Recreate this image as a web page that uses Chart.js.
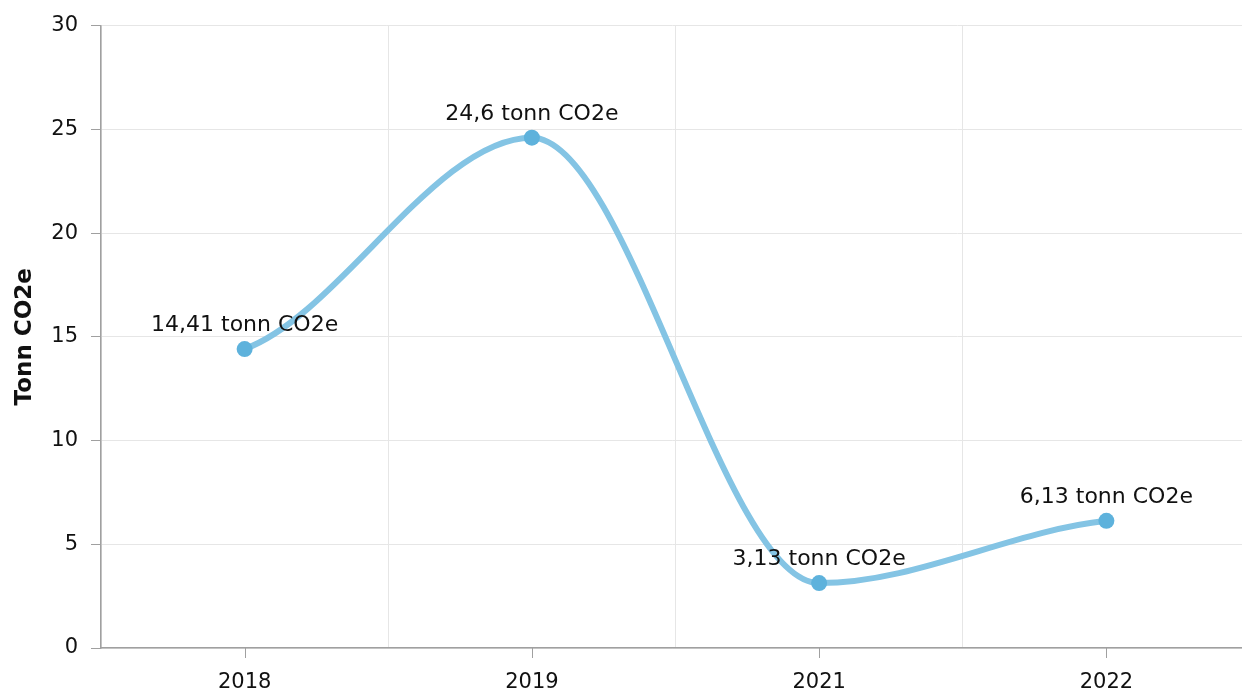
<!DOCTYPE html>
<html>
<head>
<meta charset="utf-8">
<script src="https://cdn.jsdelivr.net/npm/chart.js@4"></script>
<style>
  html, body { margin: 0; padding: 0; overflow: hidden; background: #fff; }
  canvas { display: block; }
</style>
</head>
<body>
<canvas id="co2Chart" width="1242" height="694"></canvas>
<script>
// 年ごとの排出量
const years = ["2018", "2019", "2021", "2022"];
const emissions = [14.41, 24.6, 3.13, 6.13];
const yTicks = [0, 5, 10, 15, 20, 25, 30];
const unitLabel = "tonn CO2e";
const axisTitle = "Tonn CO2e";

const fontFamily = "'DejaVu Sans', Verdana, sans-serif";
const axisColor = "#a0a0a0";
const gridColor = "#e6e6e6";
const plotRight = 1250; // プロット領域の右端（キャンバスの外）

// 値ラベル（ポイントの上）
const valueLabels = {
  id: "valueLabels",
  afterDatasetsDraw(chart) {
    const ctx = chart.ctx;
    const meta = chart.getDatasetMeta(0);
    ctx.save();
    ctx.font = "22px " + fontFamily;
    ctx.fillStyle = "#111";
    ctx.textAlign = "center";
    ctx.textBaseline = "alphabetic";
    meta.data.forEach(function (pt, i) {
      const text = String(emissions[i]).replace(".", ",") + " " + unitLabel;
      ctx.fillText(text, pt.x, pt.y - 18);
    });
    ctx.restore();
  },
};

// 右端はキャンバスの外まで伸ばす
function stretchX(chart) {
  const x = chart.scales.x;
  if (!x || x.right >= plotRight) return;
  const extra = plotRight - x.right;
  chart.chartArea.right += extra;
  chart.chartArea.width += extra;
  x.right += extra;
  x.width += extra;
  x.configure();
}
const extendRight = {
  id: "extendRight",
  afterLayout: stretchX,
  beforeDatasetsUpdate: stretchX,
};

// 端点の接線を緩やかにする
const softEnds = {
  id: "softEnds",
  beforeDatasetDraw(chart, args) {
    const meta = args.meta;
    const line = meta.dataset;
    line.updateControlPoints(chart.chartArea);
    const pts = meta.data;
    const first = pts[0];
    const last = pts[pts.length - 1];
    first.cp2y = first.y + (first.cp2y - first.y) * 0.5;
    last.cp1y = last.y + (last.cp1y - last.y) * 0.5;
  },
};

// x軸の目盛り線（カテゴリ中央）
const xTickMarks = {
  id: "xTickMarks",
  afterDraw(chart) {
    const scale = chart.scales.x;
    const ctx = chart.ctx;
    ctx.save();
    ctx.strokeStyle = axisColor;
    ctx.lineWidth = 1;
    scale.ticks.forEach(function (t, i) {
      const x = Math.round(scale.getPixelForTick(i)) + 0.5;
      ctx.beginPath();
      ctx.moveTo(x, scale.top);
      ctx.lineTo(x, scale.top + 10);
      ctx.stroke();
    });
    ctx.restore();
  },
};

new Chart(document.getElementById("co2Chart"), {
  type: "line",
  data: {
    labels: years,
    datasets: [
      {
        data: emissions,
        borderColor: "#84c4e4",
        borderWidth: 6,
        cubicInterpolationMode: "monotone",
        pointRadius: 8,
        pointHoverRadius: 8,
        pointBackgroundColor: "#5eb2dc",
        pointBorderWidth: 0,
      },
    ],
  },
  options: {
    responsive: false,
    animation: false,
    devicePixelRatio: 1,
    layout: { padding: { top: 23, right: 0, left: 0, bottom: 0 } },
    plugins: {
      legend: { display: false },
      tooltip: { enabled: false },
    },
    scales: {
      x: {
        offset: true,
        grid: { offset: true, color: gridColor, drawTicks: false },
        border: { color: axisColor, width: 1.5 },
        ticks: {
          padding: 22,
          color: "#111",
          font: { family: fontFamily, size: 21 },
        },
        afterFit(scale) {
          scale.height = 46;
        },
      },
      y: {
        min: 0,
        max: 30,
        afterBuildTicks(scale) {
          scale.ticks = yTicks.map((v) => ({ value: v }));
        },
        grid: { color: gridColor, tickColor: axisColor, tickLength: 10 },
        border: { color: axisColor, width: 1.5 },
        ticks: {
          padding: 13,
          color: "#111",
          font: { family: fontFamily, size: 21 },
        },
        title: {
          display: true,
          text: axisTitle,
          color: "#111",
          font: { family: fontFamily, size: 23, weight: "bold" },
          padding: { top: 11, bottom: 0 },
        },
        afterFit(scale) {
          scale.width = 101;
        },
      },
    },
  },
  plugins: [extendRight, softEnds, valueLabels, xTickMarks],
});
</script>
</body>
</html>
